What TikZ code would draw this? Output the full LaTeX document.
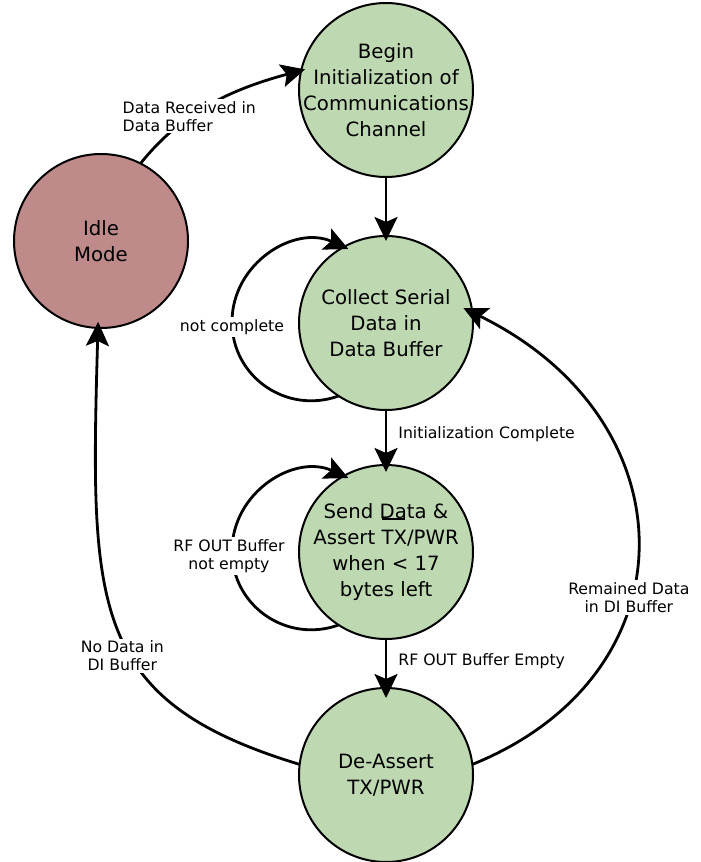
\documentclass[tikz,border=0pt]{standalone}
\usepackage{fontspec}
\setmainfont{DejaVu Sans}
\usetikzlibrary{arrows.meta}
\definecolor{stgreen}{HTML}{BED9B2}
\definecolor{stidle}{HTML}{BF8A8A}
\begin{document}
\begin{tikzpicture}[x=1pt,y=-1pt,
  state/.style={circle, draw=black, line width=2pt, fill=stgreen, minimum size=174pt, inner sep=0pt, outer sep=0pt},
  stxt/.style={font=\fontsize{19.7}{26}\selectfont, align=center, inner sep=0pt},
  conn/.style={line width=2.8pt, -{Stealth[length=24pt,width=23pt,inset=5pt]}},
  elbl/.style={font=\fontsize{15.7}{18}\selectfont, fill=white, inner sep=2pt},
]
\useasboundingbox (0,0) rectangle (701,862);

\node[state, label={[stxt]center:{Begin\\Initialization of\\Communications\\Channel}}] (B) at (386,90) {};
\node[state, fill=stidle, label={[stxt]center:{Idle\\Mode}}] (I) at (101,241) {};
\node[state, label={[stxt]center:{Collect Serial\\Data in\\Data Buffer}}] (C) at (386,323) {};
\node[state, label={[stxt]center:{Send Data \&\\Assert \raisebox{24pt}[0pt][0pt]{\rlap{\rule{23pt}{2pt}}}TX/PWR\\when < 17\\bytes left}}] (S) at (386,552) {};
\node[state, label={[stxt]center:{De-Assert\\TX/PWR}}] (D) at (386,775) {};

% Idle -> Begin
\draw[conn, shorten >=-4pt] (I.63.7) .. controls (178.6,116) and (224,91.2) .. (B.167.5)
  node[elbl, align=left, pos=0.4, xshift=-2pt] {Data Received in\\Data Buffer};

% Begin -> Collect
\draw[conn, shorten >=-5pt] (B) -- (C);

% Collect self loop
\draw[conn, shorten >=-5pt] (C.237) .. controls (286.5,414.7) and (232,376.8) .. (232,322)
  node[elbl, yshift=-5pt] {not complete}
  .. controls (232,262.9) and (294.6,224.7) .. (C.119);

% Collect -> Send
\draw[conn, shorten >=-7pt] (C) -- (S)
  node[elbl, midway, right, xshift=9pt, yshift=3.5pt] {Initialization Complete};

% Send self loop
\draw[conn, shorten >=-5pt] (S.237) .. controls (286.5,643.7) and (232,605.8) .. (232,551)
  node[elbl, align=center, yshift=-5pt, xshift=-3pt] {RF OUT Buffer\\not empty}
  .. controls (232,491.9) and (294.6,453.7) .. (S.119);

% Send -> De-Assert
\draw[conn, shorten >=-10pt] (S) -- (D)
  node[elbl, midway, right, xshift=9pt, yshift=2.5pt] {RF OUT Buffer Empty};

% De-Assert -> Idle
\draw[conn, shorten >=-6pt] (D.173) .. controls (89.7,700.8) and (90,608) .. (I.268)
  node[elbl, align=center, pos=0.43, xshift=-7pt, yshift=-2pt] {No Data in\\DI Buffer};

% De-Assert -> Collect
\draw[conn, shorten >=-10pt] (D.7) .. controls (694.9,674.4) and (692.4,420.2) .. (C.7)
  node[elbl, align=center, pos=0.4, xshift=-3pt] {Remained Data\\in DI Buffer};
\end{tikzpicture}
\end{document}
